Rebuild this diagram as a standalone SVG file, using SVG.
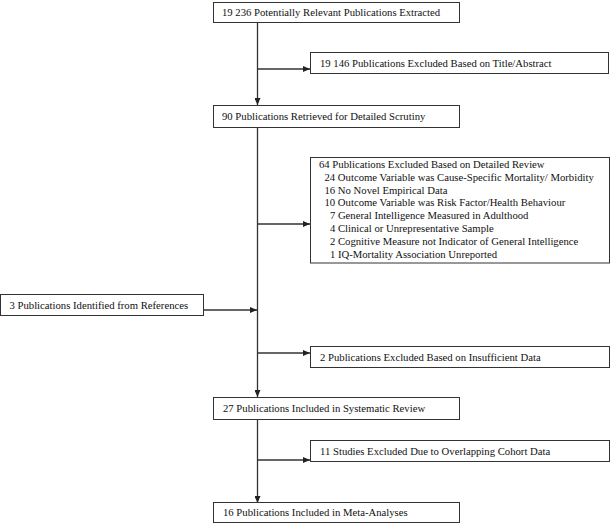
<svg xmlns="http://www.w3.org/2000/svg" width="611" height="524" viewBox="0 0 611 524">
<defs>
<marker id="ah" markerWidth="7" markerHeight="6" refX="7" refY="3" orient="auto" markerUnits="userSpaceOnUse">
<path d="M0,0 L7,3 L0,6 Z" fill="#222"/>
</marker>
<style>
.box{fill:#fff;stroke:#333;stroke-width:1}
.t{font-family:"Liberation Serif","Times New Roman",serif;font-size:10.7px;fill:#111}
.c{fill:none;stroke:#333;stroke-width:1.3}
</style>
</defs>
<rect width="611" height="524" fill="#fff"/>
<g id="connectors">
<line class="c" x1="257.5" y1="22.5" x2="257.5" y2="105" marker-end="url(#ah)"/>
<line class="c" x1="257.5" y1="69" x2="310" y2="69" marker-end="url(#ah)"/>
<line class="c" x1="257.5" y1="127.5" x2="257.5" y2="397" marker-end="url(#ah)"/>
<line class="c" x1="257.5" y1="224" x2="310" y2="224" marker-end="url(#ah)"/>
<line class="c" x1="203.5" y1="310" x2="257" y2="310" marker-end="url(#ah)"/>
<line class="c" x1="257.5" y1="353" x2="310" y2="353" marker-end="url(#ah)"/>
<line class="c" x1="257.5" y1="419.5" x2="257.5" y2="503" marker-end="url(#ah)"/>
<line class="c" x1="257.5" y1="460" x2="310" y2="460" marker-end="url(#ah)"/>
</g>
<g id="n1"><rect class="box" x="213.5" y="2.5" width="246" height="20"/><text class="t" x="222" y="16">19 236 Potentially Relevant Publications Extracted</text></g>
<g id="n2"><rect class="box" x="310.5" y="52.5" width="298" height="21"/><text class="t" x="320" y="67">19 146 Publications Excluded Based on Title/Abstract</text></g>
<g id="n3"><rect class="box" x="213.5" y="105.5" width="246" height="22"/><text class="t" x="222" y="120">90 Publications Retrieved for Detailed Scrutiny</text></g>
<g id="n4"><rect class="box" x="310.5" y="157.5" width="299" height="105.5"/>
<text class="t" x="319" y="168">64 Publications Excluded Based on Detailed Review</text>
<text class="t" x="324.5" y="180.8">24 Outcome Variable was Cause-Specific Mortality/ Morbidity</text>
<text class="t" x="324.5" y="193.6">16 No Novel Empirical Data</text>
<text class="t" x="324.5" y="206.4">10 Outcome Variable was Risk Factor/Health Behaviour</text>
<text class="t" x="329.9" y="219.2">7 General Intelligence Measured in Adulthood</text>
<text class="t" x="329.9" y="232">4 Clinical or Unrepresentative Sample</text>
<text class="t" x="329.9" y="244.8">2 Cognitive Measure not Indicator of General Intelligence</text>
<text class="t" x="329.9" y="257.6">1 IQ-Mortality Association Unreported</text>
</g>
<g id="n5"><rect class="box" x="0.5" y="294.5" width="203" height="21"/><text class="t" x="9.5" y="309">3 Publications Identified from References</text></g>
<g id="n6"><rect class="box" x="310.5" y="346.5" width="299" height="21"/><text class="t" x="320" y="361">2 Publications Excluded Based on Insufficient Data</text></g>
<g id="n7"><rect class="box" x="213.5" y="397.5" width="246" height="22"/><text class="t" x="223" y="412">27 Publications Included in Systematic Review</text></g>
<g id="n8"><rect class="box" x="310.5" y="440.5" width="299" height="21"/><text class="t" x="320" y="455">11 Studies Excluded Due to Overlapping Cohort Data</text></g>
<g id="n9"><rect class="box" x="213.5" y="502.5" width="246" height="20"/><text class="t" x="223" y="516">16 Publications Included in Meta-Analyses</text></g>
</svg>
